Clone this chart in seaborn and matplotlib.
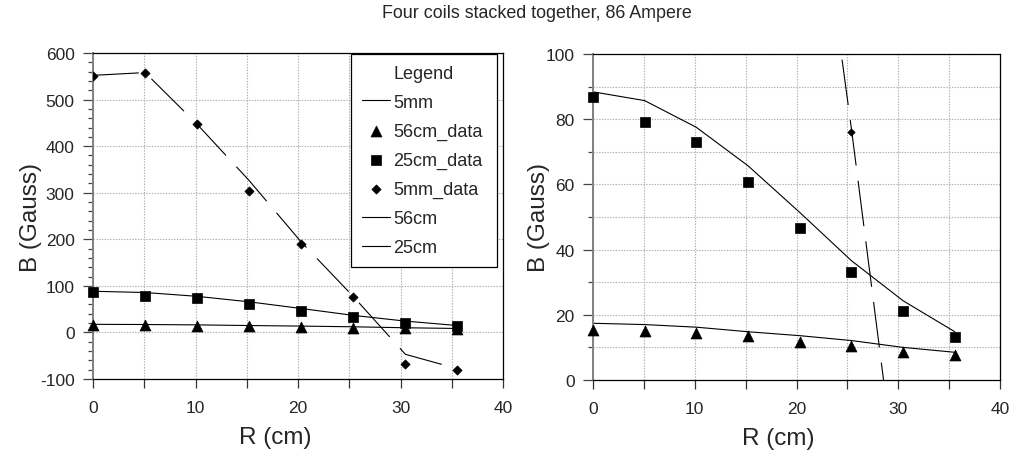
import matplotlib
matplotlib.use("Agg")
import matplotlib.pyplot as plt
from matplotlib.ticker import MultipleLocator
from matplotlib.lines import Line2D
import seaborn as sns
import pandas as pd

# ---- data ----
R = [0, 5.08, 10.16, 15.24, 20.32, 25.4, 30.48, 35.56]
b56_data = [15.2, 15.1, 14.4, 13.6, 11.8, 10.5, 8.5, 7.8]
b25_data = [86.8, 79.2, 73.0, 60.7, 46.7, 33.2, 21.1, 13.1]
b5mm_data = [550, 557, 447, 304, 190, 76, -67, -81]
b56_model = [17.4, 17.0, 16.2, 14.8, 13.6, 12.1, 10.0, 8.5]
b25_model = [88.4, 85.7, 77.5, 65.7, 51.4, 36.6, 24.3, 14.8]
b5mm_model = [552, 558, 447, 326, 194, 77, -47, -78]

title = "Four coils stacked together, 86 Ampere"
xlabel = "R (cm)"
ylabel = "B (Gauss)"
legend_order = ["5mm", "56cm_data", "25cm_data", "5mm_data", "56cm", "25cm"]

sns.set_theme(style="white")
plt.rcParams["font.family"] = ["Liberation Sans", "DejaVu Sans"]
plt.rcParams["lines.scale_dashes"] = False
plt.rcParams["axes.unicode_minus"] = False

df = pd.DataFrame({"R": R, "b56_data": b56_data, "b25_data": b25_data,
                   "b5mm_data": b5mm_data, "b56_model": b56_model,
                   "b25_model": b25_model, "b5mm_model": b5mm_model})

W, H = 1016, 452
fig = plt.figure(figsize=(W / 100, H / 100), dpi=100)
ax1 = fig.add_axes([93 / W, 1 - 380 / H, 410 / W, 326 / H])
ax2 = fig.add_axes([593 / W, 1 - 381 / H, 407 / W, 326 / H])

GRID = "#b0b0b0"


def draw(ax, right):
    lw = 0.8
    l5 = sns.lineplot(data=df, x="R", y="b5mm_model", ax=ax, color="black",
                      lw=lw, estimator=None, label="5mm")
    l5.lines[-1].set_dashes([33, 11])
    sns.lineplot(data=df, x="R", y="b56_model", ax=ax, color="black", lw=lw,
                 estimator=None, label="56cm")
    sns.lineplot(data=df, x="R", y="b25_model", ax=ax, color="black", lw=lw,
                 estimator=None, label="25cm")
    sns.scatterplot(data=df, x="R", y="b56_data", ax=ax, marker="^", s=62,
                    color="black", edgecolor="black", linewidth=0.5,
                    clip_on=False, label="56cm_data", zorder=5)
    sns.scatterplot(data=df, x="R", y="b25_data", ax=ax, marker="s", s=58,
                    color="black", edgecolor="black", linewidth=0.5,
                    clip_on=False, label="25cm_data", zorder=5)
    sns.scatterplot(data=df, x="R", y="b5mm_data", ax=ax, marker="D",
                    s=22 if not right else 14, color="black",
                    edgecolor="black", linewidth=0.5, clip_on=right is False,
                    label="5mm_data", zorder=5)

    ax.set_xlim(0, 40)
    if right:
        ax.set_ylim(0, 100)
        ax.yaxis.set_major_locator(MultipleLocator(20))
        ax.yaxis.set_minor_locator(MultipleLocator(10))
        ax.yaxis.grid(True, which="both", color=GRID, ls=(0, (1, 1)), lw=0.8)
    else:
        ax.set_ylim(-100, 600)
        ax.yaxis.set_major_locator(MultipleLocator(100))
        ax.yaxis.set_minor_locator(MultipleLocator(20))
        ax.yaxis.grid(True, which="major", color=GRID, ls=(0, (1, 1)), lw=0.8)
    ax.xaxis.set_major_locator(MultipleLocator(10))
    ax.xaxis.set_minor_locator(MultipleLocator(5))
    ax.xaxis.grid(True, which="both", color=GRID, ls=(0, (1, 1)), lw=0.8)
    ax.set_axisbelow(True)

    ax.tick_params(axis="y", which="major", direction="out", length=7.2,
                   width=0.9, color="#444444", pad=6, labelsize=12.5,
                   left=True)
    ax.tick_params(axis="y", which="minor", direction="out", length=3.6,
                   width=0.9, color="#444444", left=True)
    ax.tick_params(axis="x", which="both", direction="out", length=6.4,
                   width=0.9, color="#333333", bottom=True)
    ax.tick_params(axis="x", which="major", pad=8.5, labelsize=12.5)

    for side in ["top", "right", "bottom"]:
        ax.spines[side].set_color("black")
        ax.spines[side].set_linewidth(0.9)
        ax.spines[side].set_visible(True)
    ax.spines["left"].set_color("#808080")
    ax.spines["left"].set_linewidth(1.4)
    ax.spines["left"].set_visible(True)

    ax.set_xlabel(xlabel, fontsize=17.5)
    ax.set_ylabel(ylabel, fontsize=17.5)
    if right:
        ax.xaxis.set_label_coords(0.4545, -0.145)
        ax.yaxis.set_label_coords(-0.105, 0.5)
    else:
        ax.xaxis.set_label_coords(0.444, -0.145)
        ax.yaxis.set_label_coords(-0.125, 0.5)

    handles, labels = ax.get_legend_handles_labels()
    lg = ax.get_legend()
    if lg is not None:
        lg.remove()
    return dict(zip(labels, handles))


hmap = draw(ax1, False)
draw(ax2, True)

leg_handles = []
for name in legend_order:
    h = hmap[name]
    if isinstance(h, Line2D):
        leg_handles.append(Line2D([], [], color="black", lw=0.8))
    else:
        leg_handles.append(h)

leg = ax1.legend(leg_handles, legend_order, title="Legend",
                 loc="upper left", mode="expand",
                 bbox_to_anchor=(351 / W, 1 - 267 / H, 146 / W, 212 / H),
                 bbox_transform=fig.transFigure, fontsize=13,
                 title_fontsize=13, frameon=True, fancybox=False,
                 edgecolor="black", framealpha=1, handlelength=1.55,
                 handletextpad=0.2, labelspacing=0.66, borderpad=0.6,
                 borderaxespad=0, scatterpoints=1)
leg.get_frame().set_linewidth(0.9)
leg.set_zorder(10)

fig.suptitle(title, x=0.528, y=0.971, va="center", fontsize=12.9)

fig.savefig("out.png", dpi=100)
